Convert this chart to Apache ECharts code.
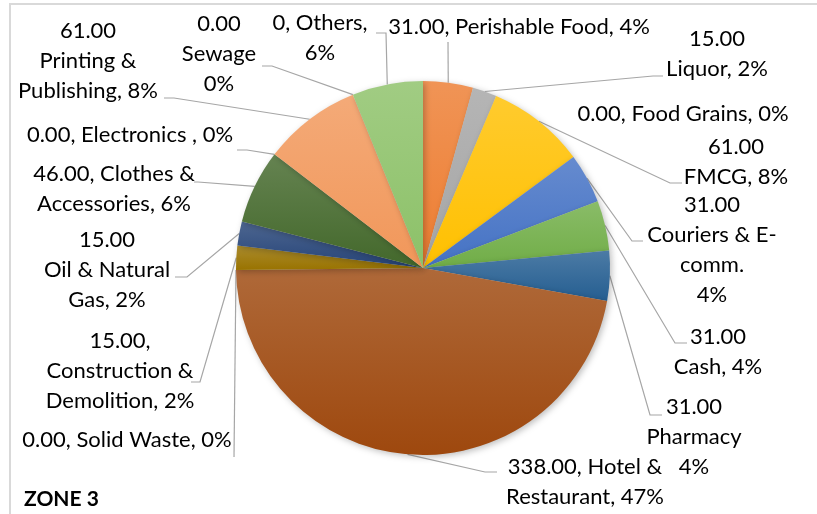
<!DOCTYPE html>
<html>
<head>
<meta charset="utf-8">
<script src="https://cdn.jsdelivr.net/npm/echarts@6/dist/echarts.min.js"></script>
<style>
  html, body { margin: 0; padding: 0; background: #fff; }
  #main { width: 817px; height: 514px; }
</style>
</head>
<body>
<div id="main"></div>
<script>
// data - clockwise from 12 o'clock
var categories = ['Perishable Food', 'Liquor', 'Food Grains', 'FMCG', 'Couriers & E-comm.', 'Cash', 'Pharmacy',
    'Hotel & Restaurant', 'Solid Waste', 'Construction & Demolition', 'Oil & Natural Gas',
    'Clothes & Accessories', 'Electronics', 'Printing & Publishing', 'Sewage', 'Others'];
var values = [31, 15, 0, 61, 31, 31, 31, 338, 0, 15, 15, 46, 0, 61, 0, 44];
// value text as printed in the data labels (Others label shows "0")
var valueLabels = ['31.00', '15.00', '0.00', '61.00', '31.00', '31.00', '31.00', '338.00', '0.00', '15.00', '15.00',
    '46.00', '0.00', '61.00', '0.00', '0'];

// styling / layout
var colors = ['#ED7D31', '#A5A5A5', '#FFC000', '#FFC000', '#4472C4', '#70AD47', '#255E91', '#9E480E', '#636363',
    '#997300', '#264478', '#43682B', '#698ED0', '#F1975A', '#B7B7B7', '#8CC168'];
var templates = [
    '{v}, {n}, {p}',
    '{v}\n{n}, {p}',
    '{v}, {n}, {p}',
    '{v}\n{n}, {p}',
    '{v}\nCouriers & E-\ncomm.\n{p}',
    '{v}\n{n}, {p}',
    '{v}\n{n}\n{p}',
    '{v}, Hotel &\nRestaurant, {p}',
    '{v}, {n}, {p}',
    '{v},\nConstruction &\nDemolition, {p}',
    '{v}\nOil & Natural\nGas, {p}',
    '{v}, Clothes &\nAccessories, {p}',
    '{v}, {n} , {p}',
    '{v}\nPrinting &\nPublishing, {p}',
    '{v}\n{n}\n{p}',
    '{v}, {n},\n{p}'
];
var labelPos = [[519, 27], [717, 54], [683, 114], [736, 162], [712, 250], [718, 352], [694, 437], [585, 482],
    [127, 440], [120, 371], [107, 270], [114, 189], [130, 135], [88, 61], [219, 54], [320, 38]];
// leader line end [x, y, stub]
var leaderEnds = [[448, 42, 0], [663, 76, -10], null, [682, 183, -12], [643, 241, -11], [687, 343, -12],
    [662, 415, -12], [497, 472, -12], [234, 457, 0], [191, 382, 9], [175, 277, 12], [194, 182, 4],
    [237, 150, 10], [164, 98, 10], [262, 66, 10], [376, 33, 10]];

function lighten(hex, amt) {
    var n = parseInt(hex.slice(1), 16);
    var r = n >> 16, g = (n >> 8) & 255, b = n & 255;
    r = Math.round(r + (255 - r) * amt);
    g = Math.round(g + (255 - g) * amt);
    b = Math.round(b + (255 - b) * amt);
    return 'rgb(' + r + ',' + g + ',' + b + ')';
}

var total = values.reduce(function (a, b) { return a + b; }, 0);

var pieData = categories.map(function (name, i) {
    return {
        name: name,
        value: values[i],
        itemStyle: {
            color: new echarts.graphic.LinearGradient(0, 0, 0, 1, [
                { offset: 0, color: lighten(colors[i], 0.18) },
                { offset: 1, color: colors[i] }
            ])
        },
        labelLine: { show: leaderEnds[i] != null }
    };
});

var myChart = echarts.init(document.getElementById('main'));
var option = {
    animation: false,
    title: {
        text: 'ZONE 3',
        left: 19,
        top: 484,
        textStyle: { fontFamily: 'Lato', fontWeight: 'bold', fontSize: 21, color: '#000' }
    },
    graphic: [{
        type: 'rect',
        shape: { x: 10, y: 4, width: 900, height: 600 },
        style: { fill: 'none', stroke: '#d9d9d9', lineWidth: 2 },
        silent: true
    }],
    series: [{
        type: 'pie',
        center: [423, 268],
        radius: 187,
        startAngle: 90,
        clockwise: true,
        avoidLabelOverlap: false,
        minShowLabelAngle: 0,
        itemStyle: {
            shadowBlur: 6,
            shadowOffsetX: 2,
            shadowOffsetY: 2,
            shadowColor: 'rgba(0,0,0,0.25)'
        },
        label: {
            show: true,
            position: 'outside',
            fontFamily: 'Lato',
            fontSize: 22,
            lineHeight: 30,
            color: '#000',
            align: 'center',
            formatter: function (p) {
                var pct = Math.round(p.value / total * 100) + '%';
                return templates[p.dataIndex]
                    .replace('{v}', valueLabels[p.dataIndex])
                    .replace('{n}', p.name)
                    .replace('{p}', pct);
            }
        },
        labelLine: {
            show: true,
            lineStyle: { color: '#a6a6a6', width: 1.2 }
        },
        labelLayout: function (params) {
            var i = params.dataIndex;
            var out = {
                x: labelPos[i][0],
                y: labelPos[i][1],
                align: 'center',
                verticalAlign: 'middle'
            };
            var e = leaderEnds[i];
            if (e && params.labelLinePoints) {
                var a = params.labelLinePoints[0];
                out.labelLinePoints = [[a[0], a[1]], [e[0] + e[2], e[1]], [e[0], e[1]]];
            }
            return out;
        },
        data: pieData
    }]
};
myChart.setOption(option);
</script>
</body>
</html>
